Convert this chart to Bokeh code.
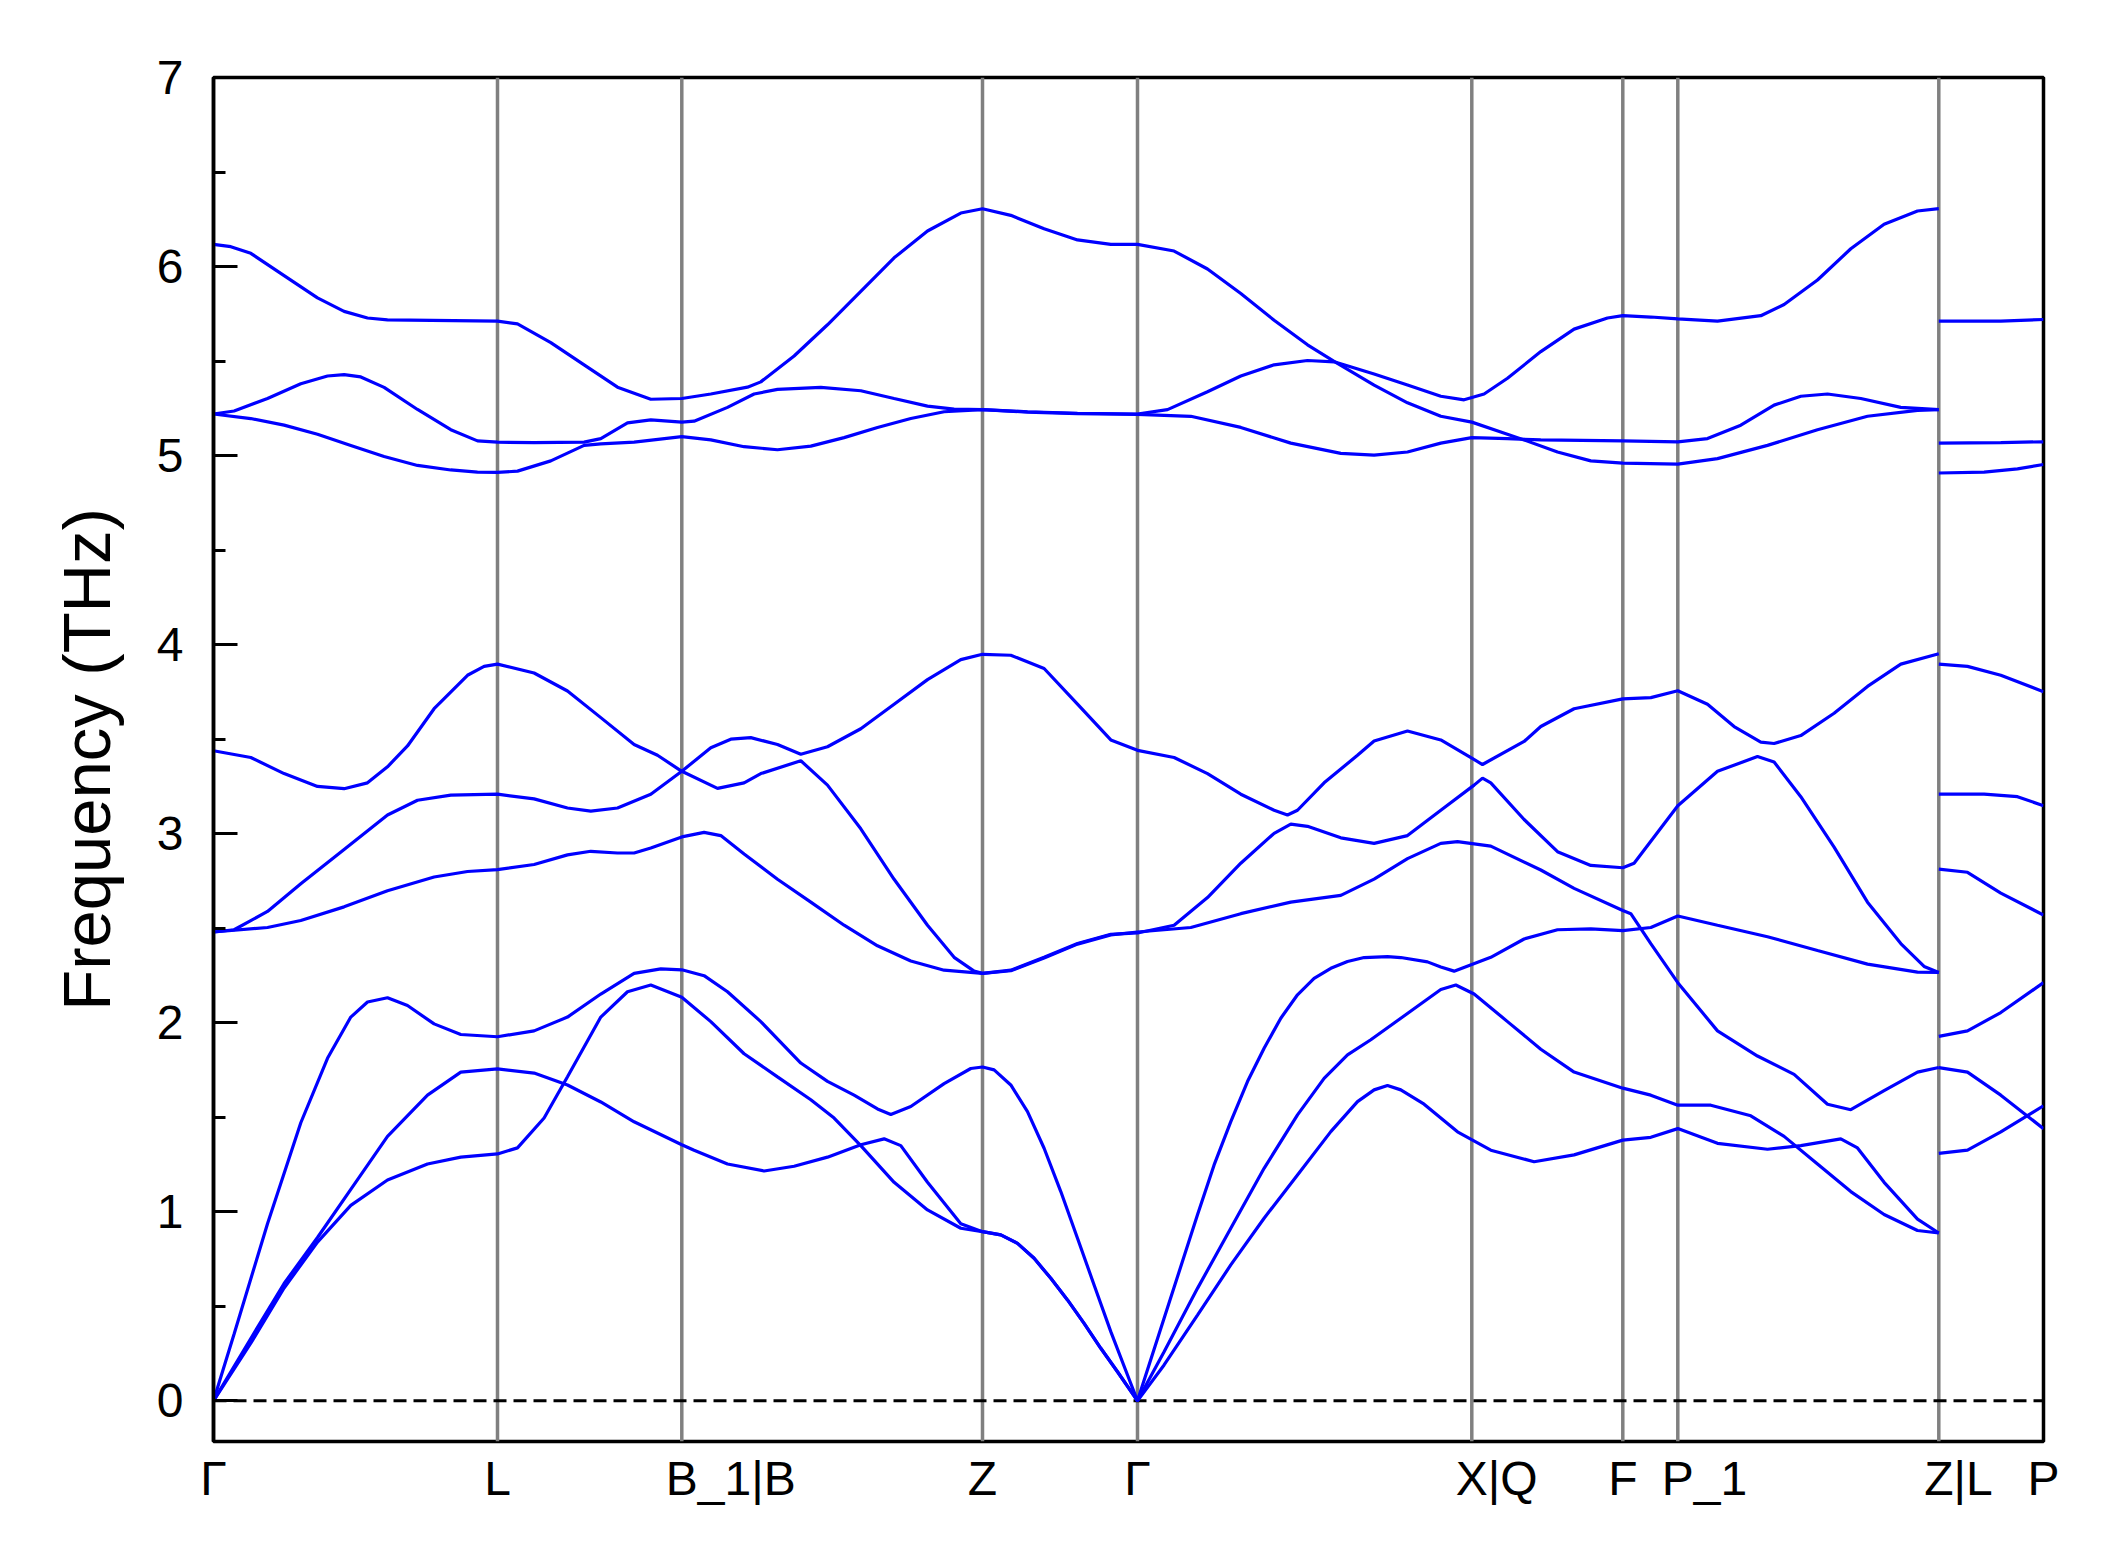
from bokeh.plotting import figure
from bokeh.layouts import column
from bokeh.models import SingleIntervalTicker, Span, Range1d, ColumnDataSource
from bokeh.core.properties import value
from bokeh.embed import file_html
from bokeh.resources import INLINE

# High-symmetry points along the path (path distance, arbitrary units)
kpoint_pos = [0.0, 0.2840, 0.4683, 0.7690, 0.9240, 1.2583, 1.4093, 1.4643, 1.7253, 1.8300]
kpoint_labels = ["Γ", "L", "B_1|B", "Z", "Γ", "X|Q", "F", "P_1", "Z|L", "P"]

# Phonon branches, (k, frequency THz), segment Γ-L-B_1|B-Z-Γ-X|Q-F-P_1-Z
band1 = [(0.0, 6.117), (0.0173, 6.105), (0.0373, 6.070), (0.0706, 5.952), (0.104, 5.834), (0.1306, 5.763),
         (0.154, 5.728), (0.174, 5.718), (0.284, 5.711), (0.304, 5.697), (0.3373, 5.598), (0.3706, 5.480),
         (0.404, 5.362), (0.4373, 5.298), (0.4683, 5.302), (0.4973, 5.326), (0.534, 5.362), (0.5473, 5.390),
         (0.5806, 5.527), (0.614, 5.692), (0.6473, 5.869), (0.6806, 6.046), (0.714, 6.188), (0.7473, 6.283),
         (0.769, 6.306), (0.7973, 6.271), (0.8306, 6.200), (0.864, 6.141), (0.8973, 6.117), (0.924, 6.117),
         (0.9606, 6.082), (0.994, 5.987), (1.0273, 5.857), (1.0606, 5.716), (1.094, 5.586), (1.1206, 5.499),
         (1.1606, 5.373), (1.194, 5.279), (1.2273, 5.208), (1.2583, 5.177), (1.2873, 5.125), (1.3106, 5.083),
         (1.344, 5.019), (1.3773, 4.972), (1.4093, 4.960), (1.4643, 4.955), (1.504, 4.984), (1.554, 5.054),
         (1.604, 5.137), (1.654, 5.208), (1.704, 5.239), (1.7253, 5.243)]
band2 = [(0.0, 5.220), (0.0206, 5.236), (0.054, 5.302), (0.0873, 5.380), (0.114, 5.421), (0.1306, 5.428),
         (0.1473, 5.416), (0.1706, 5.361), (0.204, 5.244), (0.2373, 5.137), (0.264, 5.078), (0.284, 5.071),
         (0.3206, 5.069), (0.3706, 5.071), (0.3873, 5.090), (0.414, 5.173), (0.4373, 5.189), (0.4683, 5.177),
         (0.4806, 5.182), (0.514, 5.255), (0.5406, 5.326), (0.564, 5.350), (0.6073, 5.361), (0.6473, 5.343),
         (0.6806, 5.302), (0.714, 5.262), (0.7406, 5.246), (0.769, 5.243), (0.814, 5.232), (0.864, 5.224),
         (0.924, 5.220), (0.954, 5.243), (0.994, 5.338), (1.0273, 5.421), (1.0606, 5.480), (1.094, 5.503),
         (1.1206, 5.496), (1.1606, 5.432), (1.194, 5.373), (1.2273, 5.314), (1.2506, 5.295), (1.2706, 5.326),
         (1.294, 5.409), (1.3273, 5.550), (1.3606, 5.669), (1.394, 5.728), (1.4093, 5.740), (1.4373, 5.733),
         (1.4643, 5.723), (1.504, 5.711), (1.5473, 5.740), (1.5706, 5.799), (1.604, 5.929), (1.6373, 6.094),
         (1.6706, 6.224), (1.704, 6.294), (1.7253, 6.306)]
band3 = [(0.0, 5.220), (0.0373, 5.196), (0.0706, 5.161), (0.104, 5.113), (0.1373, 5.054), (0.1706, 4.995),
         (0.204, 4.948), (0.2373, 4.924), (0.264, 4.913), (0.284, 4.911), (0.304, 4.918), (0.3373, 4.972),
         (0.3706, 5.054), (0.3873, 5.062), (0.4206, 5.071), (0.4683, 5.100), (0.4973, 5.083), (0.5306, 5.047),
         (0.564, 5.031), (0.5973, 5.050), (0.6306, 5.095), (0.664, 5.149), (0.6973, 5.196), (0.7306, 5.232),
         (0.769, 5.243), (0.814, 5.230), (0.864, 5.222), (0.924, 5.218), (0.9773, 5.208), (1.0273, 5.149),
         (1.0773, 5.066), (1.1273, 5.012), (1.1606, 5.003), (1.194, 5.019), (1.2273, 5.066), (1.2583, 5.095),
         (1.294, 5.090), (1.3273, 5.083), (1.4093, 5.078), (1.4643, 5.073), (1.494, 5.090), (1.5273, 5.161),
         (1.5606, 5.267), (1.5873, 5.314), (1.614, 5.326), (1.6473, 5.302), (1.6873, 5.255), (1.7253, 5.243)]
band4 = [(0.0, 3.439), (0.0373, 3.403), (0.0706, 3.318), (0.104, 3.250), (0.1306, 3.238), (0.154, 3.269),
         (0.174, 3.354), (0.194, 3.464), (0.2206, 3.661), (0.254, 3.838), (0.2706, 3.885), (0.284, 3.897),
         (0.3206, 3.850), (0.354, 3.755), (0.3873, 3.614), (0.4206, 3.472), (0.444, 3.415), (0.4683, 3.330),
         (0.4973, 3.455), (0.5173, 3.500), (0.5373, 3.508), (0.564, 3.472), (0.5873, 3.420), (0.614, 3.460),
         (0.6473, 3.555), (0.6806, 3.685), (0.714, 3.815), (0.7473, 3.921), (0.769, 3.949), (0.7973, 3.944),
         (0.8306, 3.874), (0.864, 3.685), (0.8973, 3.496), (0.924, 3.441), (0.9606, 3.403), (0.994, 3.318),
         (1.0273, 3.209), (1.0606, 3.124), (1.074, 3.099), (1.084, 3.124), (1.1106, 3.269), (1.144, 3.415),
         (1.1606, 3.490), (1.194, 3.543), (1.2273, 3.496), (1.2583, 3.400), (1.269, 3.366), (1.3106, 3.488),
         (1.3273, 3.567), (1.3606, 3.661), (1.4093, 3.713), (1.4373, 3.720), (1.4643, 3.756), (1.494, 3.685),
         (1.5206, 3.567), (1.5473, 3.484), (1.5606, 3.477), (1.5873, 3.519), (1.6206, 3.637), (1.654, 3.779),
         (1.6873, 3.897), (1.7253, 3.952)]
band5 = [(0.0, 2.480), (0.0206, 2.492), (0.054, 2.589), (0.0873, 2.735), (0.1306, 2.917), (0.174, 3.099),
         (0.204, 3.177), (0.2373, 3.204), (0.284, 3.209), (0.3206, 3.184), (0.354, 3.136), (0.3773, 3.119),
         (0.404, 3.136), (0.4373, 3.209), (0.4683, 3.330), (0.504, 3.240), (0.5306, 3.269), (0.5473, 3.318),
         (0.5873, 3.386), (0.614, 3.257), (0.6473, 3.026), (0.6806, 2.759), (0.714, 2.516), (0.7406, 2.346),
         (0.7606, 2.273), (0.769, 2.261), (0.7973, 2.278), (0.8306, 2.346), (0.864, 2.419), (0.8973, 2.468),
         (0.924, 2.475), (0.9606, 2.516), (0.994, 2.662), (1.0273, 2.844), (1.0606, 3.002), (1.0773, 3.051),
         (1.094, 3.039), (1.1273, 2.978), (1.1606, 2.949), (1.194, 2.990), (1.2273, 3.124), (1.2606, 3.257),
         (1.269, 3.294), (1.2773, 3.269), (1.3106, 3.075), (1.344, 2.905), (1.3773, 2.832), (1.4093, 2.820),
         (1.4206, 2.844), (1.4643, 3.148), (1.504, 3.330), (1.544, 3.408), (1.5606, 3.379), (1.5873, 3.196),
         (1.6206, 2.929), (1.654, 2.638), (1.6873, 2.419), (1.7106, 2.298), (1.7253, 2.266)]
band6 = [(0.0, 2.480), (0.054, 2.504), (0.0873, 2.541), (0.1306, 2.613), (0.174, 2.698), (0.2206, 2.771),
         (0.254, 2.800), (0.284, 2.810), (0.3206, 2.837), (0.354, 2.888), (0.3773, 2.907), (0.404, 2.898),
         (0.4206, 2.898), (0.4373, 2.924), (0.4683, 2.983), (0.4906, 3.007), (0.5073, 2.990), (0.5306, 2.893),
         (0.564, 2.759), (0.5973, 2.638), (0.6306, 2.516), (0.664, 2.407), (0.6973, 2.327), (0.7306, 2.278),
         (0.769, 2.261), (0.7973, 2.275), (0.8306, 2.343), (0.864, 2.416), (0.8973, 2.465), (0.924, 2.480),
         (0.9773, 2.504), (1.0273, 2.577), (1.0773, 2.638), (1.1273, 2.674), (1.1606, 2.760), (1.194, 2.868),
         (1.2273, 2.949), (1.244, 2.958), (1.2773, 2.934), (1.3273, 2.808), (1.3606, 2.711), (1.4093, 2.594),
         (1.4173, 2.577), (1.4373, 2.419), (1.4643, 2.212), (1.504, 1.957), (1.544, 1.824), (1.5806, 1.727),
         (1.614, 1.569), (1.6373, 1.540), (1.6706, 1.641), (1.704, 1.739), (1.7253, 1.763)]
band7 = [(0.0, 0.0), (0.0206, 0.354), (0.054, 0.937), (0.0873, 1.471), (0.114, 1.812), (0.1373, 2.030),
         (0.154, 2.110), (0.174, 2.132), (0.194, 2.091), (0.2206, 1.994), (0.2473, 1.938), (0.284, 1.926),
         (0.3206, 1.957), (0.354, 2.030), (0.3873, 2.152), (0.4206, 2.261), (0.4473, 2.285), (0.4683, 2.280),
         (0.4906, 2.249), (0.514, 2.164), (0.5473, 2.006), (0.5873, 1.787), (0.614, 1.690), (0.6406, 1.617),
         (0.664, 1.544), (0.6773, 1.515), (0.6973, 1.557), (0.7306, 1.678), (0.7573, 1.758), (0.769, 1.766),
         (0.7806, 1.751), (0.7973, 1.671), (0.814, 1.530), (0.8306, 1.336), (0.8473, 1.107), (0.864, 0.860),
         (0.8806, 0.613), (0.8973, 0.366), (0.914, 0.137), (0.924, 0.0), (0.9506, 0.437), (0.984, 0.984),
         (1.0006, 1.248), (1.0173, 1.477), (1.034, 1.689), (1.0506, 1.865), (1.0673, 2.024), (1.084, 2.148),
         (1.1006, 2.235), (1.1173, 2.288), (1.134, 2.324), (1.1506, 2.345), (1.174, 2.350), (1.1873, 2.345),
         (1.214, 2.322), (1.2273, 2.295), (1.2406, 2.273), (1.2773, 2.346), (1.3106, 2.443), (1.344, 2.492),
         (1.3773, 2.497), (1.4093, 2.487), (1.4373, 2.504), (1.4643, 2.565), (1.504, 2.516), (1.554, 2.455),
         (1.604, 2.382), (1.654, 2.310), (1.704, 2.268), (1.7253, 2.266)]
band8 = [(0.0, 0.0), (0.0373, 0.330), (0.0706, 0.621), (0.104, 0.864), (0.1373, 1.119), (0.174, 1.399),
         (0.214, 1.617), (0.2473, 1.739), (0.284, 1.756), (0.3206, 1.734), (0.354, 1.671), (0.3873, 1.581),
         (0.4206, 1.476), (0.4683, 1.355), (0.4806, 1.326), (0.514, 1.253), (0.5506, 1.216), (0.5806, 1.241),
         (0.614, 1.289), (0.6473, 1.355), (0.6706, 1.386), (0.6873, 1.350), (0.714, 1.156), (0.7473, 0.937),
         (0.769, 0.895), (0.7873, 0.878), (0.804, 0.833), (0.8206, 0.754), (0.8373, 0.648), (0.854, 0.534),
         (0.8706, 0.410), (0.8873, 0.278), (0.904, 0.154), (0.924, 0.0), (0.9506, 0.260), (0.984, 0.595),
         (1.0173, 0.913), (1.0506, 1.230), (1.084, 1.513), (1.1106, 1.706), (1.134, 1.830), (1.1573, 1.910),
         (1.1873, 2.024), (1.2273, 2.176), (1.2423, 2.200), (1.2606, 2.152), (1.294, 2.006), (1.3273, 1.860),
         (1.3606, 1.739), (1.4093, 1.654), (1.4373, 1.617), (1.4643, 1.564), (1.4973, 1.564), (1.5373, 1.508),
         (1.5706, 1.399), (1.604, 1.253), (1.6373, 1.107), (1.6706, 0.986), (1.704, 0.901), (1.7253, 0.888)]
band9 = [(0.0, 0.0), (0.0373, 0.305), (0.0706, 0.597), (0.104, 0.840), (0.1373, 1.034), (0.174, 1.168),
         (0.214, 1.253), (0.2473, 1.289), (0.284, 1.306), (0.304, 1.338), (0.3306, 1.496), (0.354, 1.714),
         (0.3873, 2.030), (0.414, 2.164), (0.4373, 2.200), (0.4683, 2.135), (0.4973, 2.006), (0.5306, 1.836),
         (0.564, 1.714), (0.5973, 1.593), (0.6206, 1.496), (0.6473, 1.350), (0.6806, 1.156), (0.714, 1.010),
         (0.7473, 0.913), (0.769, 0.895), (0.7873, 0.878), (0.804, 0.833), (0.8206, 0.754), (0.8373, 0.648),
         (0.854, 0.534), (0.8706, 0.410), (0.8873, 0.278), (0.904, 0.154), (0.924, 0.0), (0.9506, 0.190),
         (0.984, 0.454), (1.0173, 0.719), (1.0506, 0.966), (1.084, 1.195), (1.1173, 1.424), (1.144, 1.583),
         (1.1606, 1.645), (1.174, 1.668), (1.1873, 1.645), (1.2106, 1.569), (1.244, 1.423), (1.2773, 1.326),
         (1.3206, 1.265), (1.3606, 1.301), (1.4093, 1.379), (1.4373, 1.394), (1.4643, 1.440), (1.504, 1.362),
         (1.554, 1.331), (1.5873, 1.350), (1.6273, 1.386), (1.644, 1.338), (1.6706, 1.156), (1.704, 0.961),
         (1.7253, 0.888)]

# Segment L-P (after the Z|L break)
lp1 = [(1.7253, 5.711), (1.7873, 5.711), (1.83, 5.720)]
lp2 = [(1.7253, 5.066), (1.7873, 5.069), (1.83, 5.073)]
lp3 = [(1.7253, 4.908), (1.7706, 4.913), (1.804, 4.930), (1.83, 4.953)]
lp4 = [(1.7253, 3.897), (1.754, 3.885), (1.7873, 3.838), (1.83, 3.751)]
lp5 = [(1.7253, 3.209), (1.7706, 3.209), (1.804, 3.196), (1.83, 3.148)]
lp6 = [(1.7253, 2.813), (1.754, 2.796), (1.7873, 2.686), (1.83, 2.570)]
lp7 = [(1.7253, 1.928), (1.754, 1.957), (1.7873, 2.054), (1.83, 2.212)]
lp8 = [(1.7253, 1.763), (1.754, 1.739), (1.7873, 1.617), (1.83, 1.440)]
lp9 = [(1.7253, 1.309), (1.754, 1.326), (1.7873, 1.423), (1.83, 1.561)]

branches = [band1, band2, band3, band4, band5, band6, band7, band8, band9,
            lp1, lp2, lp3, lp4, lp5, lp6, lp7, lp8, lp9]

FONT = "Liberation Sans"
TICK_PX = 48
# advance widths (em) of the first character of each path label: the label's
# first character is centred on its tick, as in the original figure
first_char_em = {"Γ": 0.556, "L": 0.556, "B": 0.667, "Z": 0.611, "X": 0.667, "F": 0.611, "P": 0.667}

y_lo, y_hi = -0.215, 7.0
LEFT, RIGHT, TOP = 213, 65, 77
FRAME_W, FRAME_H = 1830, 1364
STRIP_H = 90      # height of the strip holding the k-path labels
STRIP_PAD = 45    # extra px on each side of the strip so edge labels are not cut
LABEL_GAP = 6     # px from the strip top to the label text box

x_lo, x_hi = kpoint_pos[0], kpoint_pos[-1]

p = figure(frame_width=FRAME_W, frame_height=FRAME_H,
           x_range=Range1d(x_lo, x_hi), y_range=Range1d(y_lo, y_hi),
           output_backend="svg", toolbar_location=None,
           min_border_left=LEFT, min_border_right=RIGHT, min_border_top=TOP, min_border_bottom=4)
p.frame_align = False
p.xgrid.visible = False
p.ygrid.visible = False
p.xaxis.visible = False
p.background_fill_color = "white"
p.border_fill_color = "white"
p.outline_line_color = "black"
p.outline_line_width = 3.5
p.outline_line_alpha = 1.0

for pos in kpoint_pos[1:-1]:
    p.add_layout(Span(location=pos, dimension="height", line_color="#808080",
                      line_width=3.5, level="underlay"))
p.add_layout(Span(location=0.0, dimension="width", line_color="black",
                  line_width=3, line_dash="13 7", level="underlay"))

for br in branches:
    p.line([k for k, _ in br], [f for _, f in br], line_color="#0000ff", line_width=3.2)

ya = p.yaxis[0]
ya.ticker = SingleIntervalTicker(interval=1, num_minor_ticks=2)
ya.major_tick_in = 24
ya.major_tick_out = 0
ya.minor_tick_in = 12
ya.minor_tick_out = 0
ya.major_tick_line_width = 3
ya.minor_tick_line_width = 3
ya.major_tick_line_color = "black"
ya.minor_tick_line_color = "black"
ya.axis_line_width = 3.5
ya.axis_line_color = "black"
ya.major_label_text_font = FONT
ya.major_label_text_font_size = f"{TICK_PX}px"
ya.major_label_text_color = "black"
ya.major_label_standoff = 30
ya.axis_label = "Frequency (THz)"
ya.axis_label_text_font = FONT
ya.axis_label_text_font_size = "67px"
ya.axis_label_text_font_style = "normal"
ya.axis_label_text_color = "black"
ya.axis_label_standoff = 30

# strip below the plot with the same x scale (widened by STRIP_PAD px on each side)
per_px = (x_hi - x_lo) / FRAME_W
strip = figure(frame_width=FRAME_W + 2 * STRIP_PAD, frame_height=STRIP_H,
               x_range=Range1d(x_lo - STRIP_PAD * per_px, x_hi + STRIP_PAD * per_px),
               y_range=Range1d(STRIP_H, 0), x_axis_type=None, y_axis_type=None,
               output_backend="svg", toolbar_location=None,
               min_border_left=LEFT - STRIP_PAD, min_border_right=RIGHT - STRIP_PAD,
               min_border_top=0, min_border_bottom=0)
strip.frame_align = False
strip.xgrid.visible = False
strip.ygrid.visible = False
strip.outline_line_color = None
strip.background_fill_color = "white"
strip.border_fill_color = "white"

lab_src = ColumnDataSource(dict(
    x=kpoint_pos,
    y=[LABEL_GAP] * len(kpoint_pos),
    text=kpoint_labels,
    dx=[-first_char_em[lab[0]] * TICK_PX / 2 for lab in kpoint_labels],
))
strip.text(x="x", y="y", text="text", x_offset="dx", source=lab_src,
           text_align="left", text_baseline="top",
           text_font=value(FONT), text_font_size=value(f"{TICK_PX}px"), text_color="black")

layout = column(p, strip, spacing=0)
open("out.html", "w").write(file_html(layout, INLINE))
